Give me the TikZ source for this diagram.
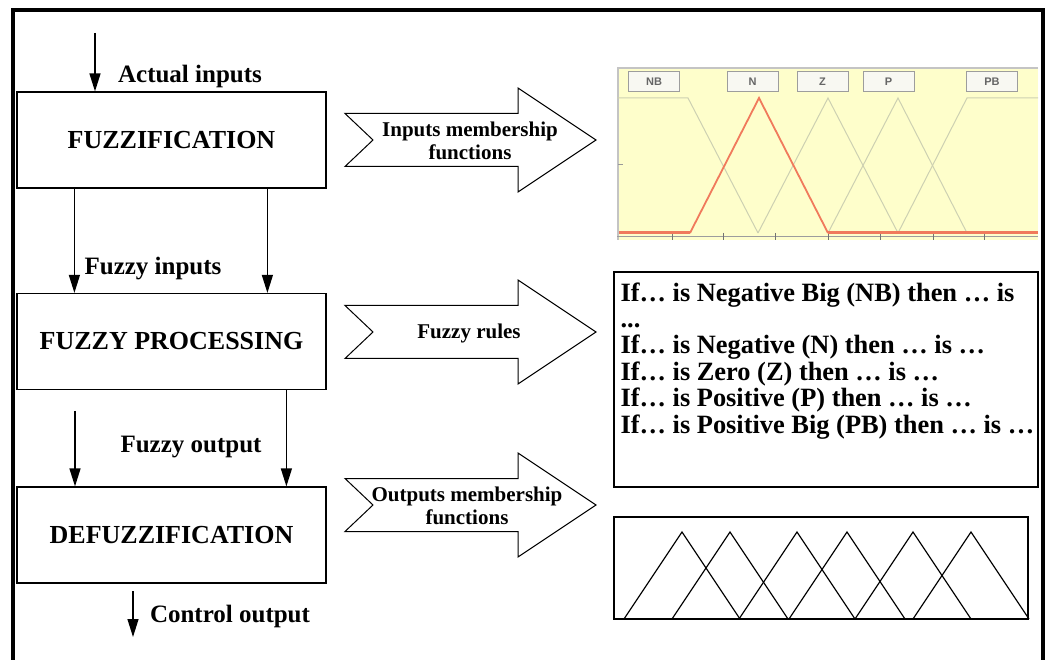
\documentclass[tikz,border=0pt]{standalone}
\usepackage{fontspec}
\setmainfont{Liberation Serif}
\setsansfont{Liberation Sans}
\usetikzlibrary{arrows.meta,positioning}
\definecolor{mf-bg}{HTML}{FEFECB}
\definecolor{mf-grid}{HTML}{CDD0B2}
\definecolor{mf-red}{HTML}{F07A5C}
\definecolor{mf-frame}{HTML}{C4C4C4}
\definecolor{mf-tag}{HTML}{F8F8F2}

\begin{document}
\begin{tikzpicture}[
    x=1pt, y=-1pt,
    stage/.style={draw, line width=1.2pt, minimum width=309pt, minimum height=96pt, font=\fontsize{26}{28}\selectfont\bfseries},
    conn/.style={-{Triangle[length=18pt,width=11pt]}, line width=1.3pt},
    flowlabel/.style={font=\fontsize{25}{28}\selectfont\bfseries, anchor=base},
    bigarrow/.style={draw, line width=1pt, fill=white, line join=miter},
    arrowtext/.style={font=\fontsize{21}{23}\selectfont\bfseries, align=center},
    panel/.style={draw, line width=1.2pt, inner sep=0pt},
    ruletext/.style={font=\fontsize{26.4}{26.4}\selectfont\bfseries, align=left, inner sep=0pt, anchor=north west},
    mflabel/.style={draw=mf-frame!80!black, fill=mf-tag, line width=1pt, minimum width=51pt, minimum height=20pt, inner sep=0pt, font=\sffamily\bfseries\fontsize{11}{11}\selectfont, text=black!60},
    mfline/.style={mf-grid, line width=1pt}
]
\useasboundingbox (0,0) rectangle (1045,660);

% =========================================================================
% MOLDURA EXTERNA
% =========================================================================
\draw[line width=3.5pt] (13,660) -- (13,10) -- (1043,10) -- (1043,660);

% =========================================================================
% BLOCOS DO CONTROLADOR (coluna da esquerda)
% =========================================================================
\node[stage] (fuzz)   at (171.5,140)   {FUZZIFICATION};
\node[stage] (proc)   at (171.5,341.5) {FUZZY PROCESSING};
\node[stage] (defuzz) at (171.5,535)   {DEFUZZIFICATION};

\coordinate (in) at (95,33);
\draw[conn] (in) -- (in |- fuzz.north);
\node[flowlabel] (inlabel) at (190,83) {Actual inputs};

\draw[conn] ([xshift=58pt]fuzz.south west) -- ([xshift=58pt]proc.north west);
\draw[conn] ([xshift=251pt]fuzz.south west) -- ([xshift=251pt]proc.north west);
\node[flowlabel] (filabel) at (153,275) {Fuzzy inputs};

\coordinate (fo) at (75,411);
\draw[conn] (fo) -- (fo |- defuzz.north);
\draw[conn] ([xshift=270pt]proc.south west) -- ([xshift=270pt]defuzz.north west);
\node[flowlabel] (folabel) at (191,453) {Fuzzy output};

\coordinate (cs) at (133,591);
\coordinate (ce) at (133,637);
\draw[conn] (cs) -- (ce);
\node[flowlabel] (colabel) at (230,622) {Control output};

% =========================================================================
% SETAS DE BLOCO (centro)
% =========================================================================
\foreach \y in {140,332,505}
    \draw[bigarrow] (345,\y-26.5) -- (518,\y-26.5) -- (518,\y-52) -- (596,\y)
        -- (518,\y+52) -- (518,\y+26.5) -- (345,\y+26.5) -- (373,\y) -- cycle;

\node[arrowtext] (imftext) at (470,141) {Inputs membership\\functions};
\node[arrowtext] (rultext) at (469,333) {Fuzzy rules};
\node[arrowtext] (omftext) at (467,506) {Outputs membership\\functions};

% =========================================================================
% FUNÇÕES DE PERTINÊNCIA DE ENTRADA (captura amarela)
% =========================================================================
\fill[mf-bg] (617,67) rectangle (1038,240);
\draw[mf-frame, line width=2.5pt] (618,240) -- (618,68) -- (1038,68);
\draw[mf-frame!80!black, line width=1pt] (617,237) -- (1038,237);
\foreach \t in {672,723,775,828,880,933,984}
    \draw[black!55, line width=1pt] (\t,233) -- (\t,240);
\draw[black!40, line width=1pt] (618,165) -- (623,165);

\draw[mfline] (617,98) -- (688,98) -- (758,233);
\draw[mfline] (758,233) -- (828,98) -- (898,233);
\draw[mfline] (828,233) -- (898,98) -- (967,233);
\draw[mfline] (898,233) -- (967,98) -- (1038,98);
\draw[mf-red, line width=3pt] (619,233) -- (690,233);
\draw[mf-red, line width=3pt] (828,233) -- (1038,233);
\draw[mf-red, line width=1.8pt] (690,233) -- (759,98) -- (828,233);

\foreach \t/\c in {NB/654, N/752.5, Z/822.5, P/888.5, PB/992}
    \node[mflabel] (mf\t) at (\c,82) {\t};

% =========================================================================
% REGRAS FUZZY
% =========================================================================
\node[panel, minimum width=424pt, minimum height=215pt] (rules) at (826,379.5) {};
\node[ruletext] (ruleslist) at ([xshift=7pt,yshift=-11pt]rules.north west) {%
    If… is Negative Big (NB) then … is\\
    ...\\
    If… is Negative (N) then … is …\\
    If… is Zero (Z) then … is …\\
    If… is Positive (P) then … is …\\
    If… is Positive Big (PB) then … is …};

% =========================================================================
% FUNÇÕES DE PERTINÊNCIA DE SAÍDA
% =========================================================================
\node[panel, minimum width=414pt, minimum height=102pt] (omf) at (821,568) {};
\foreach \p in {682,730,797,847,913,971}
    \draw[line width=1.2pt] (\p-58,619) -- (\p,532) -- (\p+58,619);

\end{tikzpicture}
\end{document}
